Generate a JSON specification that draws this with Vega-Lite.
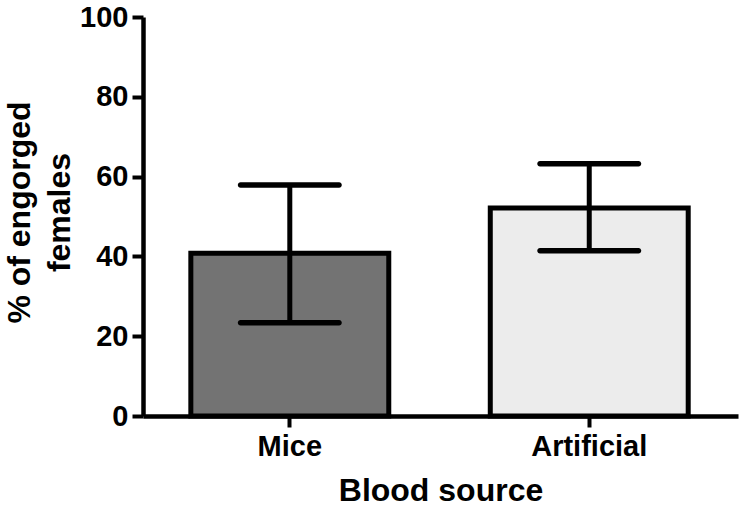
{
  "$schema": "https://vega.github.io/schema/vega-lite/v6.json",
  "autosize": {"type": "none"},
  "padding": {"left": 143, "top": 17, "right": 11, "bottom": 93},
  "width": 595,
  "height": 399,
  "background": "white",
  "config": {
    "view": {"stroke": null},
    "font": "Liberation Sans",
    "axis": {
      "domainColor": "black",
      "domainWidth": 4.5,
      "tickColor": "black",
      "tickWidth": 4,
      "tickSize": 11,
      "labelColor": "black",
      "labelFont": "Liberation Sans",
      "labelFontWeight": "bold",
      "labelFontSize": 29,
      "titleColor": "black",
      "titleFont": "Liberation Sans",
      "titleFontWeight": "bold",
      "titleFontSize": 32,
      "grid": false
    }
  },
  "data": {
    "values": [
      {"source": "Mice", "mean": 40.8, "lower": 23.4, "upper": 57.9},
      {"source": "Artificial", "mean": 52.1, "lower": 41.4, "upper": 63.2}
    ]
  },
  "encoding": {
    "x": {
      "field": "source",
      "type": "nominal",
      "sort": ["Mice", "Artificial"],
      "scale": {"paddingInner": 0.339, "paddingOuter": 0.163, "align": 0.49},
      "axis": {
        "title": "Blood source",
        "labelAngle": 0,
        "labelPadding": 5,
        "titlePadding": 14
      }
    }
  },
  "layer": [
    {
      "mark": {"type": "bar", "stroke": "black", "strokeWidth": 5, "strokeJoin": "miter"},
      "encoding": {
        "y": {
          "field": "mean",
          "type": "quantitative",
          "scale": {"domain": [0, 100], "nice": false},
          "axis": {
            "title": ["% of engorged", "females"],
            "values": [0, 20, 40, 60, 80, 100],
            "labelPadding": 4,
            "titleBaseline": "alphabetic",
            "titleAlign": "center",
            "titleLineHeight": 40,
            "titleX": -114,
            "titleY": 195
          }
        },
        "fill": {
          "field": "source",
          "type": "nominal",
          "scale": {"domain": ["Mice", "Artificial"], "range": ["#737373", "#ececec"]},
          "legend": null
        }
      }
    },
    {
      "mark": {"type": "rule", "color": "black", "strokeWidth": 5},
      "encoding": {
        "y": {"field": "lower", "type": "quantitative"},
        "y2": {"field": "upper"}
      }
    },
    {
      "mark": {"type": "tick", "color": "black", "size": 104, "thickness": 5.5, "cornerRadius": 2.75, "opacity": 1},
      "encoding": {
        "y": {"field": "upper", "type": "quantitative"}
      }
    },
    {
      "mark": {"type": "tick", "color": "black", "size": 104, "thickness": 5.5, "cornerRadius": 2.75, "opacity": 1},
      "encoding": {
        "y": {"field": "lower", "type": "quantitative"}
      }
    }
  ]
}
